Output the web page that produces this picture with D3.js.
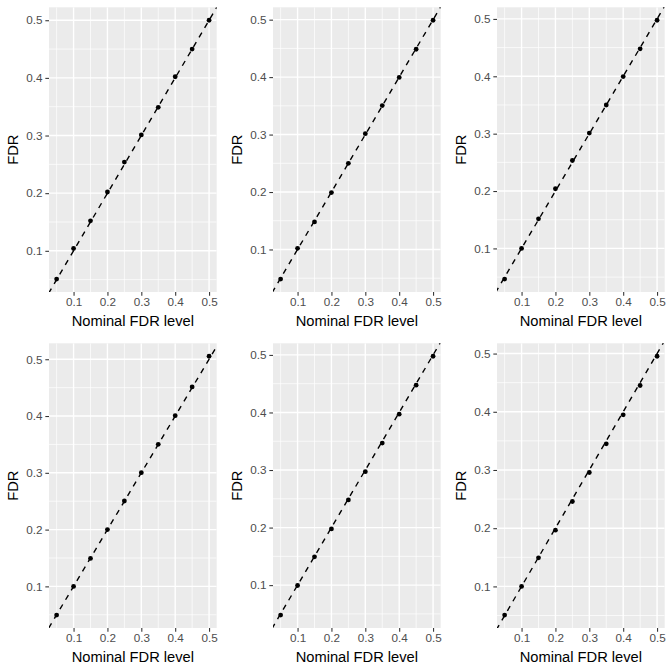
<!DOCTYPE html>
<html><head><meta charset="utf-8">
<script src="https://cdn.jsdelivr.net/npm/d3@7"></script>
<style>html,body{margin:0;padding:0;background:#fff;}svg{display:block;}</style>
</head><body>
<script>
const nominal = [0.05,0.10,0.15,0.20,0.25,0.30,0.35,0.40,0.45,0.50];
const fdr1 = [0.051,0.104,0.152,0.202,0.254,0.301,0.349,0.402,0.450,0.500];
const fdr2 = [0.0485,0.102,0.148,0.199,0.250,0.3015,0.3505,0.3995,0.4485,0.499];
const fdr3 = [0.0466,0.100,0.1515,0.204,0.2532,0.301,0.350,0.3996,0.4478,0.4977];
const fdr4 = [0.0495,0.100,0.1493,0.200,0.2504,0.3003,0.3502,0.4007,0.4512,0.5053];
const fdr5 = [0.048,0.0994,0.1491,0.1977,0.248,0.2971,0.3468,0.3971,0.4474,0.4977];
const fdr6 = [0.0508,0.100,0.1492,0.1967,0.2459,0.2957,0.3449,0.3947,0.4451,0.4954];
const panels = [fdr1,fdr2,fdr3,fdr4,fdr5,fdr6];
const xTicks = [0.1,0.2,0.3,0.4,0.5];
const yTicks = [0.1,0.2,0.3,0.4,0.5];
const xTitle = "Nominal FDR level";
const yTitle = "FDR";

const W = 672, H = 672, PW = 224, PH = 336;
const svg = d3.select("body").append("svg").attr("width", W).attr("height", H);
const font = "'Liberation Sans', Arial, Helvetica, sans-serif";

function expand(ext){ const d = ext[1]-ext[0]; return [ext[0]-0.05*d, ext[1]+0.05*d]; }
function minors(major, dom){
  const step = major[1]-major[0];
  const out = [];
  for (let v = major[0]-step/2; v <= dom[1]+1e-9; v += step) if (v >= dom[0]) out.push(v);
  return out;
}

panels.forEach((vals, i) => {
  const r = Math.floor(i/3), c = i%3;
  const ox = c*PW, oy = r*PH;
  const L = ox+49, R = ox+216.7, T = oy+7.3, B = oy+292;
  const x = d3.scaleLinear().domain(expand(d3.extent(nominal))).range([L, R]);
  const y = d3.scaleLinear().domain(expand(d3.extent(vals))).range([B, T]);
  const g = svg.append("g");
  g.append("rect").attr("x", L).attr("y", T).attr("width", R-L).attr("height", B-T).attr("fill", "#EBEBEB");
  const clipId = "clip"+i;
  g.append("clipPath").attr("id", clipId).append("rect").attr("x", L).attr("y", T).attr("width", R-L).attr("height", B-T);
  const pg = g.append("g").attr("clip-path", `url(#${clipId})`);
  // minor grid
  minors(xTicks, x.domain()).forEach(v => pg.append("line").attr("x1", x(v)).attr("x2", x(v)).attr("y1", T).attr("y2", B).attr("stroke", "#fff").attr("stroke-width", 0.7));
  minors(yTicks, y.domain()).forEach(v => pg.append("line").attr("y1", y(v)).attr("y2", y(v)).attr("x1", L).attr("x2", R).attr("stroke", "#fff").attr("stroke-width", 0.7));
  // major grid
  xTicks.forEach(v => pg.append("line").attr("x1", x(v)).attr("x2", x(v)).attr("y1", T).attr("y2", B).attr("stroke", "#fff").attr("stroke-width", 1.4));
  yTicks.forEach(v => pg.append("line").attr("y1", y(v)).attr("y2", y(v)).attr("x1", L).attr("x2", R).attr("stroke", "#fff").attr("stroke-width", 1.4));
  // identity line
  const lo = Math.min(x.domain()[0], y.domain()[0]) - 0.1, hi = Math.max(x.domain()[1], y.domain()[1]) + 0.1;
  pg.append("line").attr("x1", x(lo)).attr("y1", y(lo)).attr("x2", x(hi)).attr("y2", y(hi))
    .attr("stroke", "#000").attr("stroke-width", 1.4).attr("stroke-dasharray", "5.5,5.5");
  // points
  pg.selectAll("circle").data(nominal.map((n, k) => [n, vals[k]])).enter().append("circle")
    .attr("cx", d => x(d[0])).attr("cy", d => y(d[1])).attr("r", 2.4).attr("fill", "#000");
  // axes
  const xa = g.append("g").attr("transform", `translate(0,${B})`)
    .call(d3.axisBottom(x).tickValues(xTicks).tickFormat(d3.format(".1f")).tickSize(3.67).tickPadding(2.5));
  const ya = g.append("g").attr("transform", `translate(${L},0)`)
    .call(d3.axisLeft(y).tickValues(yTicks).tickFormat(d3.format(".1f")).tickSize(3.67).tickPadding(2.9));
  [xa, ya].forEach(a => {
    a.select(".domain").remove();
    a.selectAll(".tick line").attr("stroke", "#333333").attr("stroke-width", 1.07);
    a.selectAll(".tick text").attr("fill", "#4D4D4D").style("font-family", font).style("font-size", "11.7px");
  });
  g.append("text").attr("x", (L+R)/2).attr("y", oy+325.5).attr("text-anchor", "middle")
    .style("font-family", font).style("font-size", "14.7px").attr("fill", "#000").text(xTitle);
  g.append("text").attr("transform", `translate(${ox+18.3},${(T+B)/2}) rotate(-90)`).attr("text-anchor", "middle")
    .style("font-family", font).style("font-size", "14.7px").attr("fill", "#000").text(yTitle);
});
</script>
</body></html>
